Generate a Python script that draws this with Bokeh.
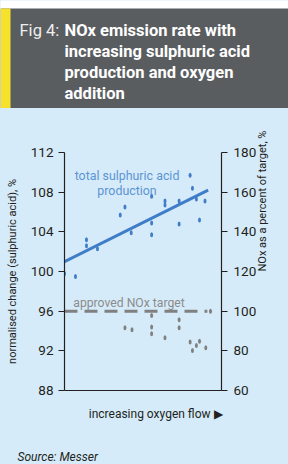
import math
from bokeh.plotting import figure
from bokeh.layouts import column
from bokeh.models import Range1d, LinearAxis, FixedTicker, Label, BoxAnnotation
from bokeh.embed import file_html
from bokeh.resources import INLINE

# ---- data ----
acid_x = [0, 7, 14, 14, 21, 35.5, 38.5, 42.5, 55.5, 55.5, 55.5, 64, 64, 73, 73, 80, 81.5, 84, 86, 89.5]
acid_y = [99.8, 99.5, 103.2, 102.6, 102.3, 105.7, 106.5, 103.9, 107.6, 104.9, 103.7, 107.1, 106.7,
          107.1, 104.8, 109.7, 108.4, 107.3, 105.2, 107.1]
trend_x = [0, 91.5]
trend_y = [101.0, 108.2]

nox_x = [38.5, 43, 55.5, 55.5, 55.5, 64, 73, 73, 80, 81.5, 84, 86, 90, 93]
nox_y = [91.6, 90.6, 97.8, 92.0, 88.6, 86.6, 95.7, 91.6, 84.4, 80.2, 82.7, 84.8, 81.6, 100]
target_x = [0, 91]
target_y = [100, 100]

left_ticks = [88, 92, 96, 100, 104, 108, 112]
right_ticks = [60, 80, 100, 120, 140, 160, 180]

title_lead = "Fig 4:"
title_lines = ["NOx emission rate with", "increasing sulphuric acid",
               "production and oxygen", "addition"]

# ---- style ----
BG = "#d6ebf9"
HEAD = "#5a5d5f"
YELLOW = "#f7e22b"
BLUE = "#3f7dc8"
BLUE_TXT = "#5b95d3"
GREY = "#808080"
DARK = "#231f20"
FONT = "Roboto"


def lab(fig, x, y, text, **kw):
    d = dict(x=x, y=y, text=text, x_units="canvas", y_units="canvas", text_font=FONT,
             text_baseline="alphabetic")
    d.update(kw)
    fig.add_layout(Label(**d))


def box(fig, l, r, t, b, color):
    fig.add_layout(BoxAnnotation(left=l, right=r, top=t, bottom=b, left_units="canvas",
                                 right_units="canvas", top_units="canvas", bottom_units="canvas",
                                 fill_color=color, fill_alpha=1, line_color=None,
                                 level="underlay"))


# ---- header ----
h = figure(width=288, height=108, output_backend="svg", toolbar_location=None,
           x_range=Range1d(0, 288), y_range=Range1d(0, 108), x_axis_type=None, y_axis_type=None,
           min_border=0, background_fill_color="white", border_fill_color="white",
           outline_line_color=None, frame_align=False)
h.grid.visible = False
box(h, 0, 288, 8, 109, HEAD)
box(h, 0, 10, 8, 109, YELLOW)
lab(h, 19, 30, title_lead, text_font_size="16.5px", text_color="#eeeeee")
for i, t in enumerate(title_lines):
    lab(h, 64, 30 + 21 * i, t, text_font_size="16.5px", text_font_style="bold", text_color="white")

# ---- main chart ----
p = figure(width=288, height=292, output_backend="svg", toolbar_location=None,
           x_range=Range1d(0, 100), y_range=Range1d(88, 112),
           min_border_left=64, min_border_right=67, min_border_top=44, min_border_bottom=10,
           background_fill_color=BG, border_fill_color=BG, outline_line_color=None,
           frame_align=False)
p.grid.visible = False
p.extra_y_ranges = {"nox": Range1d(60, 180)}

xa = p.xaxis[0]
xa.ticker = FixedTicker(ticks=[])
xa.major_tick_line_color = None
xa.minor_tick_line_color = None
xa.major_label_standoff = 0
xa.axis_line_color = DARK
xa.axis_line_width = 1.2

la = p.yaxis[0]
la.ticker = FixedTicker(ticks=left_ticks)
ra = LinearAxis(y_range_name="nox", ticker=FixedTicker(ticks=right_ticks))
p.add_layout(ra, "right")
for ax in (la, ra):
    ax.major_tick_out = 6
    ax.major_tick_in = 0
    ax.minor_tick_line_color = None
    ax.axis_line_color = DARK
    ax.axis_line_width = 1.2
    ax.major_tick_line_color = DARK
    ax.major_label_text_font = FONT
    ax.major_label_text_font_size = "13.5px"
    ax.major_label_text_color = DARK
    ax.axis_label_text_font = FONT
    ax.axis_label_text_font_size = "11px"
    ax.axis_label_text_font_style = "normal"
    ax.axis_label_text_color = DARK
la.major_label_standoff = 5
ra.major_label_standoff = 6
la.axis_label = "normalised change (sulphuric acid), %"
la.axis_label_standoff = 9
ra.axis_label = "NOx as a percent of target, %"
ra.axis_label_standoff = 3
ra.axis_label_orientation = math.pi / 2

p.line(trend_x, trend_y, line_color=BLUE, line_width=3)
p.ellipse(acid_x, acid_y, width=3, height=5, width_units="screen", height_units="screen",
          fill_color=BLUE, line_color=None)
p.line(target_x, target_y, y_range_name="nox", line_color=GREY, line_width=3, line_dash="13 7")
p.ellipse(nox_x, nox_y, width=3, height=5, width_units="screen", height_units="screen",
          fill_color=GREY, line_color=None, y_range_name="nox")

lab(p, 126.5, 67, "total sulphuric acid", text_font_size="12.4px", text_color=BLUE_TXT,
    text_align="center")
lab(p, 126.5, 82, "production", text_font_size="12.4px", text_color=BLUE_TXT, text_align="center")
lab(p, 128.5, 194, "approved NOx target", text_font_size="12.2px", text_color="#8c8c8c",
    text_align="center")

# ---- footer ----
f = figure(width=288, height=64, output_backend="svg", toolbar_location=None,
           x_range=Range1d(0, 288), y_range=Range1d(0, 64), x_axis_type=None, y_axis_type=None,
           min_border=0, background_fill_color=BG, border_fill_color=BG, outline_line_color=None,
           frame_align=False)
f.grid.visible = False
lab(f, 222, 13, "increasing oxygen flow \u25b6", text_font_size="12px", text_color=DARK,
    text_align="right")
lab(f, 17, 56, "Source: Messer", text_font_size="12px", text_font_style="italic", text_color=DARK)

layout = column(h, p, f, spacing=0)
layout.styles = {"background-color": BG}
open("out.html", "w").write(file_html(layout, INLINE))
